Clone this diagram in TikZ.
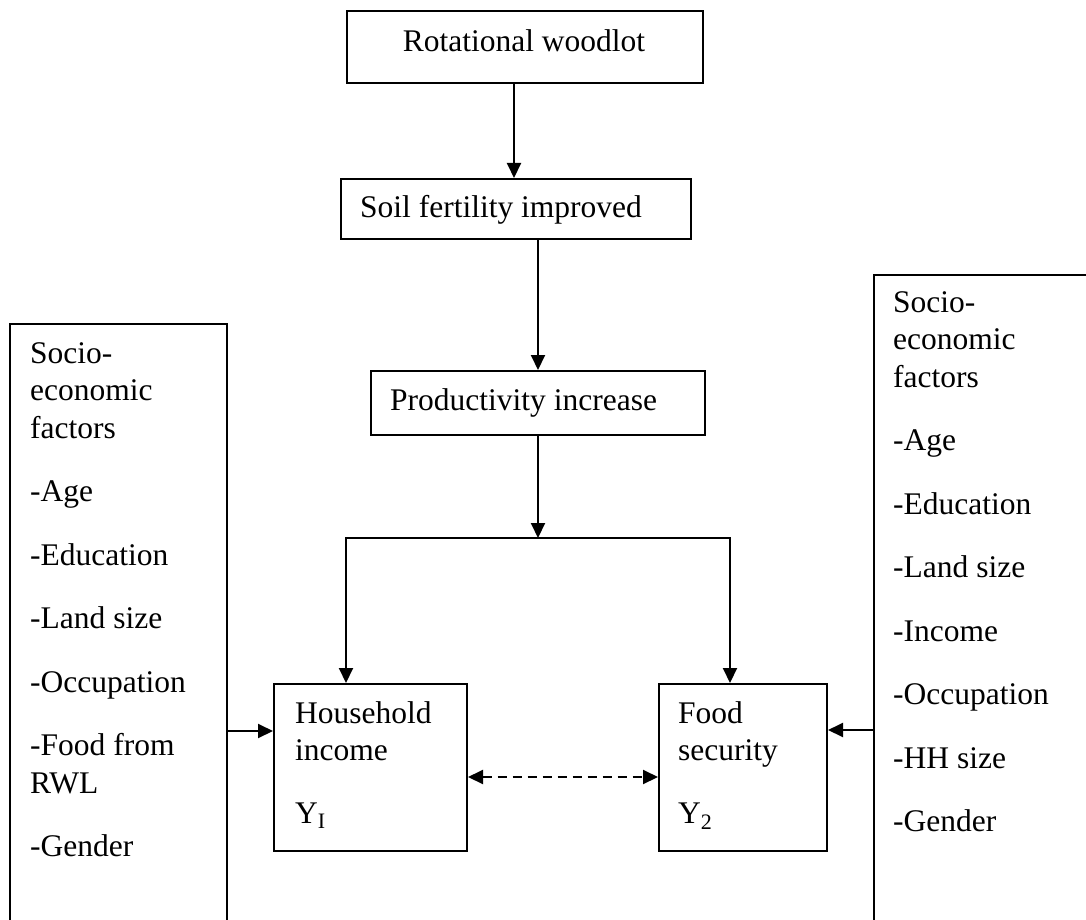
\documentclass[tikz,border=0pt]{standalone}
\usepackage{fontspec}
\setmainfont{Liberation Serif}
\usetikzlibrary{arrows.meta}
\begin{document}
\begin{tikzpicture}[x=1pt,y=-1pt,
  box/.style={draw, line width=2pt, rectangle, inner sep=0pt, anchor=north west},
  txt/.style={anchor=base west, inner sep=0pt, font=\fontsize{31.5}{36}\selectfont},
  tip/.tip={Triangle[length=15pt,width=14pt]},
  arr/.style={line width=2pt, -tip},
  darr/.style={line width=2pt, dash pattern=on 9pt off 6pt, tip-tip}]
\useasboundingbox[fill=white] (0,0) rectangle (1086,920);

% top chain
\node[box, minimum width=356pt, minimum height=72pt] (rot) at (346,10) {};
\node[txt, anchor=base] (rottxt) at (524,52) {Rotational woodlot};
\node[box, minimum width=350pt, minimum height=60pt] (soil) at (340,178) {};
\node[txt] (soiltxt) at (360,217) {Soil fertility improved};
\node[box, minimum width=334pt, minimum height=64pt] (prod) at (370,370) {};
\node[txt] (prodtxt) at (390,410) {Productivity increase};

% side boxes
\node[box, minimum width=217pt, minimum height=640pt] (lbox) at (9,323) {};
\foreach \t/\y [count=\i] in {Socio-/363, economic/400.5, factors/438, -Age/501.5, -Education/565, -Land size/628.5, -Occupation/692, -Food from/755.5, RWL/793, -Gender/856.5}
  \node[txt] (L\i) at (30,\y) {\t};
\node[box, minimum width=240pt, minimum height=700pt] (rbox) at (873,274) {};
\foreach \t/\y [count=\i] in {Socio-/312, economic/349.5, factors/387, -Age/450.5, -Education/514, -Land size/577.5, -Income/641, -Occupation/704.5, -HH size/768, -Gender/831.5}
  \node[txt] (R\i) at (893,\y) {\t};

% outcome boxes
\node[box, minimum width=193pt, minimum height=167pt] (hh) at (273,683) {};
\node[txt] (hh1) at (295,723) {Household};
\node[txt] (hh2) at (295,760) {income};
\node[txt] (hh3) at (295,823) {Y\textsubscript{I}};
\node[box, minimum width=168pt, minimum height=167pt] (food) at (658,683) {};
\node[txt] (fd1) at (678,723) {Food};
\node[txt] (fd2) at (678,760) {security};
\node[txt] (fd3) at (678,823) {Y\textsubscript{2}};

% connectors
\coordinate (jn) at (538,538);
\coordinate (bl) at (346,538);
\coordinate (br) at (730,538);
\draw[arr] (rot.south -| 514,0) -- (soil.north -| 514,0);
\draw[arr] (soil.south -| jn) -- (prod.north -| jn);
\draw[arr] (prod.south -| jn) -- (jn);
\draw[line width=2pt, tip-tip] (hh.north -| bl) -- (bl) -- (br) -- (food.north -| br);
\draw[arr] (lbox.east |- 0,731) -- (hh.west |- 0,731);
\draw[arr] (rbox.west |- 0,730) -- (food.east |- 0,730);
\draw[darr] (hh.east |- 0,777) -- (food.west |- 0,777);
\end{tikzpicture}
\end{document}
